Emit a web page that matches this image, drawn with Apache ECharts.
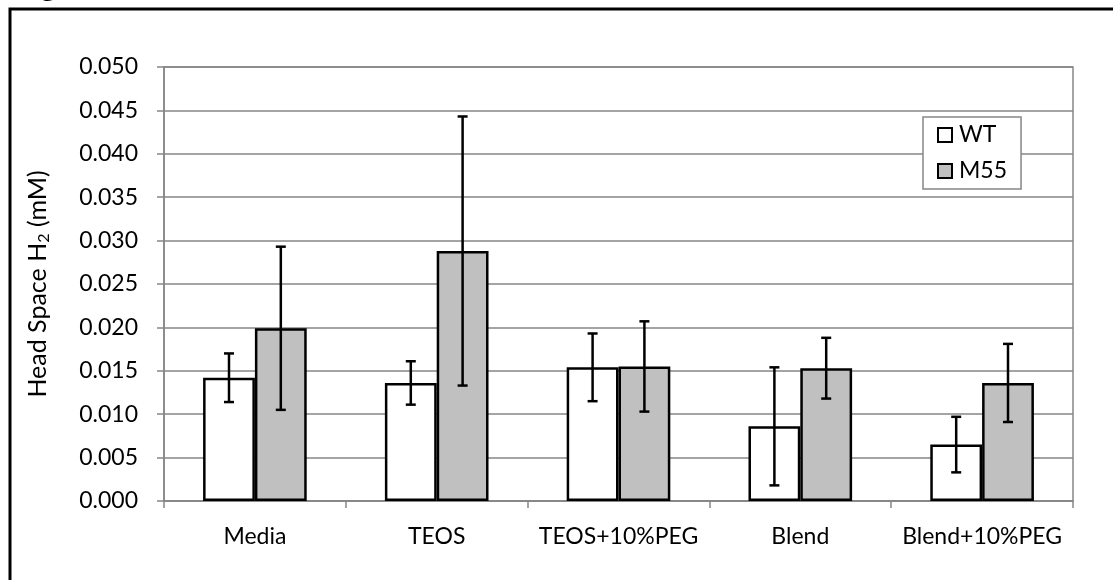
<!DOCTYPE html>
<html>
<head>
<meta charset="utf-8">
<script src="https://cdn.jsdelivr.net/npm/echarts@6/dist/echarts.min.js"></script>
<style>
  html, body { margin: 0; padding: 0; background: #fff; }
  #chart { width: 1113px; height: 580px; }
</style>
</head>
<body>
<div id="chart"></div>
<script>
// data
const categories = ['Media', 'TEOS', 'TEOS+10%PEG', 'Blend', 'Blend+10%PEG']
const wtMean = [0.0142, 0.0136, 0.0154, 0.0086, 0.0065]
const wtErr = [0.0028, 0.0025, 0.0039, 0.0068, 0.0032]
const m55Mean = [0.0199, 0.0288, 0.0155, 0.0153, 0.0136]
const m55Err = [0.0094, 0.0155, 0.0052, 0.0035, 0.0045]
const yTicks = { min: 0, max: 0.05, interval: 0.005 }

const FONT = 'Lato'
const CAT_GAP = 0.43 // barCategoryGap as fraction

// error bar items: [categoryIndex, low, high]
function errData(mean, err) {
	return mean.map((m, i) => [i, m - err[i], m + err[i]])
}

function errRenderer(side) {
	return function (params, api) {
		const idx = api.value(0)
		const band = api.size([1, 0])[0]
		const barW = band * (1 - CAT_GAP) / 2
		const x = api.coord([idx, 0])[0] + side * barW / 2
		const lo = api.coord([idx, api.value(1)])[1]
		const hi = api.coord([idx, api.value(2)])[1]
		const cap = 5
		const st = { stroke: '#000', lineWidth: 2.5 }
		return {
			type: 'group',
			children: [
				{ type: 'line', shape: { x1: x, y1: lo, x2: x, y2: hi }, style: st },
				{ type: 'line', shape: { x1: x - cap, y1: hi, x2: x + cap, y2: hi }, style: st },
				{ type: 'line', shape: { x1: x - cap, y1: lo, x2: x + cap, y2: lo }, style: st }
			]
		}
	}
}

const chart = echarts.init(document.getElementById('chart'))
chart.setOption({
	animation: false,
	textStyle: { fontFamily: FONT },
	grid: {
		left: 164,
		right: 40,
		top: 67,
		bottom: 79,
		show: true,
		borderColor: '#868686',
		borderWidth: 1.5
	},
	legend: {
		data: ['WT', 'M55'],
		orient: 'vertical',
		left: 923,
		top: 117,
		padding: [5, 14, 5, 14],
		itemGap: 10,
		itemWidth: 14,
		itemHeight: 14,
		icon: 'rect',
		backgroundColor: '#fff',
		borderColor: '#868686',
		borderWidth: 1.5,
		borderRadius: 0,
		selectedMode: false,
		textStyle: { fontFamily: FONT, fontSize: 23, color: '#000', lineHeight: 26, padding: [0, 0, 0, 2] }
	},
	xAxis: {
		type: 'category',
		data: categories,
		axisLine: { lineStyle: { color: '#868686', width: 1.5 } },
		axisTick: { show: true, length: 7, lineStyle: { color: '#868686', width: 1.5 } },
		axisLabel: { color: '#000', fontSize: 23, margin: 24, interval: 0, fontFamily: FONT }
	},
	yAxis: {
		type: 'value',
		min: yTicks.min,
		max: yTicks.max,
		interval: yTicks.interval,
		name: 'Head Space H{sub|2} (mM)',
		nameLocation: 'middle',
		nameGap: 112,
		nameTextStyle: {
			fontSize: 25,
			color: '#000',
			fontFamily: FONT,
			rich: {
				sub: { fontSize: 16, fontFamily: FONT, color: '#000', verticalAlign: 'bottom', padding: [12, 0, 0, 0] }
			}
		},
		axisLine: { show: true, lineStyle: { color: '#868686', width: 1.5 } },
		axisTick: { show: true, length: 7, lineStyle: { color: '#868686', width: 1.5 } },
		axisLabel: {
			color: '#000',
			fontSize: 23,
			margin: 26,
			fontFamily: FONT,
			formatter: v => v.toFixed(3)
		},
		splitLine: { lineStyle: { color: '#868686', width: 1.5 } }
	},
	graphic: [
		{
			type: 'rect',
			shape: { x: 10, y: 9, width: 1300, height: 800 },
			style: { fill: 'none', stroke: '#000', lineWidth: 3 },
			silent: true
		},
		{
			type: 'text',
			x: 14,
			y: 1,
			style: { text: 'Figure 3 (b)', fontSize: 32, fontFamily: FONT, fill: '#000', verticalAlign: 'bottom' },
			silent: true
		}
	],
	series: [
		{
			name: 'WT',
			type: 'bar',
			data: wtMean,
			barGap: '0%',
			barCategoryGap: (CAT_GAP * 100) + '%',
			itemStyle: { color: '#fff', borderColor: '#000', borderWidth: 2.5 }
		},
		{
			name: 'M55',
			type: 'bar',
			data: m55Mean,
			barGap: '0%',
			barCategoryGap: (CAT_GAP * 100) + '%',
			itemStyle: { color: '#c0c0c0', borderColor: '#000', borderWidth: 2.5 }
		},
		{
			name: 'WT err',
			type: 'custom',
			data: errData(wtMean, wtErr),
			renderItem: errRenderer(-1),
			z: 5
		},
		{
			name: 'M55 err',
			type: 'custom',
			data: errData(m55Mean, m55Err),
			renderItem: errRenderer(1),
			z: 5
		}
	]
})
</script>
</body>
</html>
